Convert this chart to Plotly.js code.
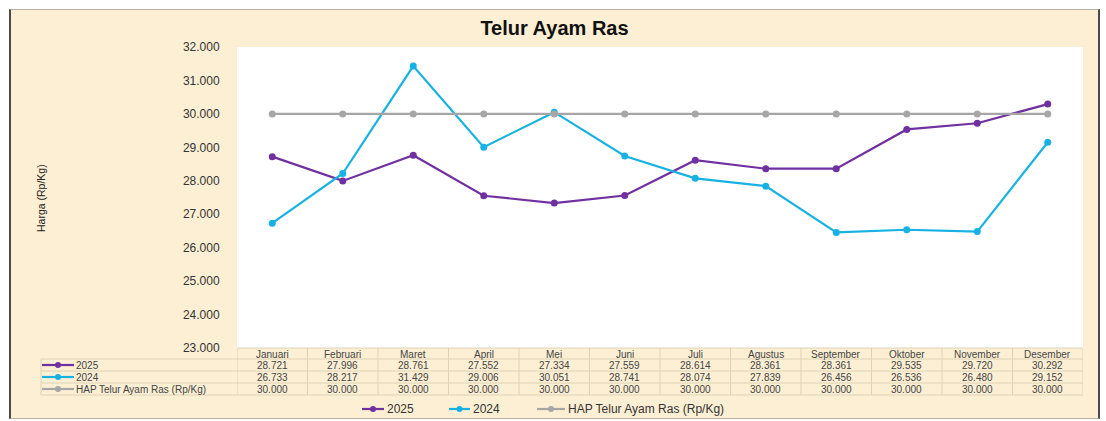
<!DOCTYPE html>
<html>
<head>
<meta charset="utf-8">
<script src="https://cdn.plot.ly/plotly-3.0.1.min.js"></script>
<style>
  html, body { margin: 0; padding: 0; background: #ffffff; }
  #wrap { position: absolute; left: 9px; top: 9px; width: 1087px; height: 408px;
          border-top: 1px solid #b8b0a0; border-bottom: 1px solid #b8b0a0;
          border-left: 2px solid #4a4a4a; border-right: 2px solid #4a4a4a; background: #fdefd3; }
  #chart { width: 1087px; height: 408px; }
</style>
</head>
<body>
<div id="wrap"><div id="chart"></div></div>
<script>
// ---- data ----
const months = ["Januari","Februari","Maret","April","Mei","Juni","Juli","Agustus","September","Oktober","November","Desember"];
const series2025 = [28721, 27996, 28761, 27552, 27334, 27559, 28614, 28361, 28361, 29535, 29720, 30292];
const series2024 = [26733, 28217, 31429, 29006, 30051, 28741, 28074, 27839, 26456, 26536, 26480, 29152];
const seriesHAP  = [30000, 30000, 30000, 30000, 30000, 30000, 30000, 30000, 30000, 30000, 30000, 30000];
const seriesNames = ["2025", "2024", "HAP Telur Ayam Ras (Rp/Kg)"];
const yTicks = [23000, 24000, 25000, 26000, 27000, 28000, 29000, 30000, 31000, 32000];

// ---- styles ----
const colors = ["#7030a0", "#17b2e3", "#a6a6a6"];
const FONT = "Liberation Sans, Arial, sans-serif";
const W = 1087, H = 408;
const M = { l: 226, r: 15, t: 37, b: 70 };
const plotH = H - M.t - M.b;   // 301
const plotW = W - M.l - M.r;   // 846

function fmt(v) {
  const th = Math.floor(v / 1000), r = v % 1000;
  return th + "." + String(r).padStart(3, "0");
}
// chart-div pixel -> paper coords
function py(Y) { return (M.t + plotH - Y) / plotH; }
function px(X) { return (X - M.l) / plotW; }

const allSeries = [series2025, series2024, seriesHAP];
const traces = allSeries.map((s, i) => ({
  type: "scatter", mode: "lines+markers", name: seriesNames[i],
  x: months, y: s,
  line: { color: colors[i], width: 2.2 },
  marker: { color: colors[i], size: 7 },
  cliponaxis: false, showlegend: false
}));

const shapes = [];
const annotations = [];

function legendKey(x0, x1, yc, color) {
  shapes.push({ type: "line", xref: "paper", yref: "paper", x0: px(x0), x1: px(x1), y0: yc, y1: yc,
    line: { color: color, width: 2.2 } });
  const cx = (x0 + x1) / 2;
  shapes.push({ type: "circle", xref: "paper", yref: "paper",
    x0: px(cx - 3), x1: px(cx + 3), y0: yc - 3 / plotH, y1: yc + 3 / plotH,
    fillcolor: color, line: { color: color, width: 0 } });
}

// table geometry (chart-div pixel coords)
const rowTops = [338, 349, 361, 373, 385];
const labelLeft = 30;
const gridCol = "#dcd2b8";
const tableFont = { family: FONT, size: 10, color: "#444" };

rowTops.forEach((Y, k) => {
  shapes.push({ type: "line", xref: "paper", yref: "paper",
    x0: k === 0 ? 0 : px(labelLeft), x1: 1, y0: py(Y), y1: py(Y),
    line: { color: gridCol, width: 1 } });
});
for (let i = 0; i <= months.length; i++) {
  shapes.push({ type: "line", xref: "x", yref: "paper",
    x0: i - 0.5, x1: i - 0.5, y0: py(rowTops[0]), y1: py(rowTops[4]),
    line: { color: gridCol, width: 1 } });
}
shapes.push({ type: "line", xref: "paper", yref: "paper",
  x0: px(labelLeft), x1: px(labelLeft), y0: py(rowTops[1]), y1: py(rowTops[4]),
  line: { color: gridCol, width: 1 } });

months.forEach((m, i) => {
  annotations.push({ xref: "x", yref: "paper", x: i, y: py((rowTops[0] + rowTops[1]) / 2 + 0.5),
    text: m, showarrow: false, font: tableFont, xanchor: "center", yanchor: "middle" });
});
allSeries.forEach((s, r) => {
  const yc = py((rowTops[r + 1] + rowTops[r + 2]) / 2);
  s.forEach((v, i) => {
    annotations.push({ xref: "x", yref: "paper", x: i, y: yc, text: fmt(v), showarrow: false,
      font: tableFont, xanchor: "center", yanchor: "middle" });
  });
  legendKey(labelLeft + 1, labelLeft + 33, yc, colors[r]);
  annotations.push({ xref: "paper", yref: "paper", x: px(labelLeft + 33), y: yc, text: seriesNames[r],
    showarrow: false, font: tableFont, xanchor: "left", yanchor: "middle" });
});

// bottom legend (chart-div pixel coords)
const legY = py(399);
const legItems = [[351, 373], [438, 459], [526, 554]];
legItems.forEach((k, r) => {
  legendKey(k[0], k[1], legY, colors[r]);
  annotations.push({ xref: "paper", yref: "paper", x: px(k[1] + 1), y: legY, text: seriesNames[r],
    showarrow: false, font: { family: FONT, size: 12, color: "#333" }, xanchor: "left", yanchor: "middle" });
});

// y axis title
annotations.push({ xref: "paper", yref: "paper", x: px(30), y: py(188), text: "Harga (Rp/Kg)",
  textangle: -90, showarrow: false, font: { family: FONT, size: 10.5, color: "#222" },
  xanchor: "center", yanchor: "middle" });

const layout = {
  width: W, height: H,
  margin: M,
  paper_bgcolor: "#fdefd3",
  plot_bgcolor: "#ffffff",
  separators: ",.",
  showlegend: false,
  title: { text: "<b>Telur Ayam Ras</b>", x: 0.5, xanchor: "center", xref: "container",
    y: 1 - 18 / H, yanchor: "middle", yref: "container",
    font: { family: FONT, size: 20, color: "#111" } },
  xaxis: { type: "category", range: [-0.5, 11.5], showticklabels: false, showgrid: false,
    zeroline: false, showline: false, ticks: "", fixedrange: true },
  yaxis: { range: [23000, 32000], tickvals: yTicks, tickformat: ",.0f", showgrid: false,
    zeroline: false, showline: false, ticks: "outside", ticklen: 14, tickcolor: "rgba(0,0,0,0)",
    tickfont: { family: FONT, size: 12, color: "#333" } },
  shapes: shapes,
  annotations: annotations
};

Plotly.newPlot("chart", traces, layout, { displayModeBar: false, staticPlot: true });
</script>
</body>
</html>
